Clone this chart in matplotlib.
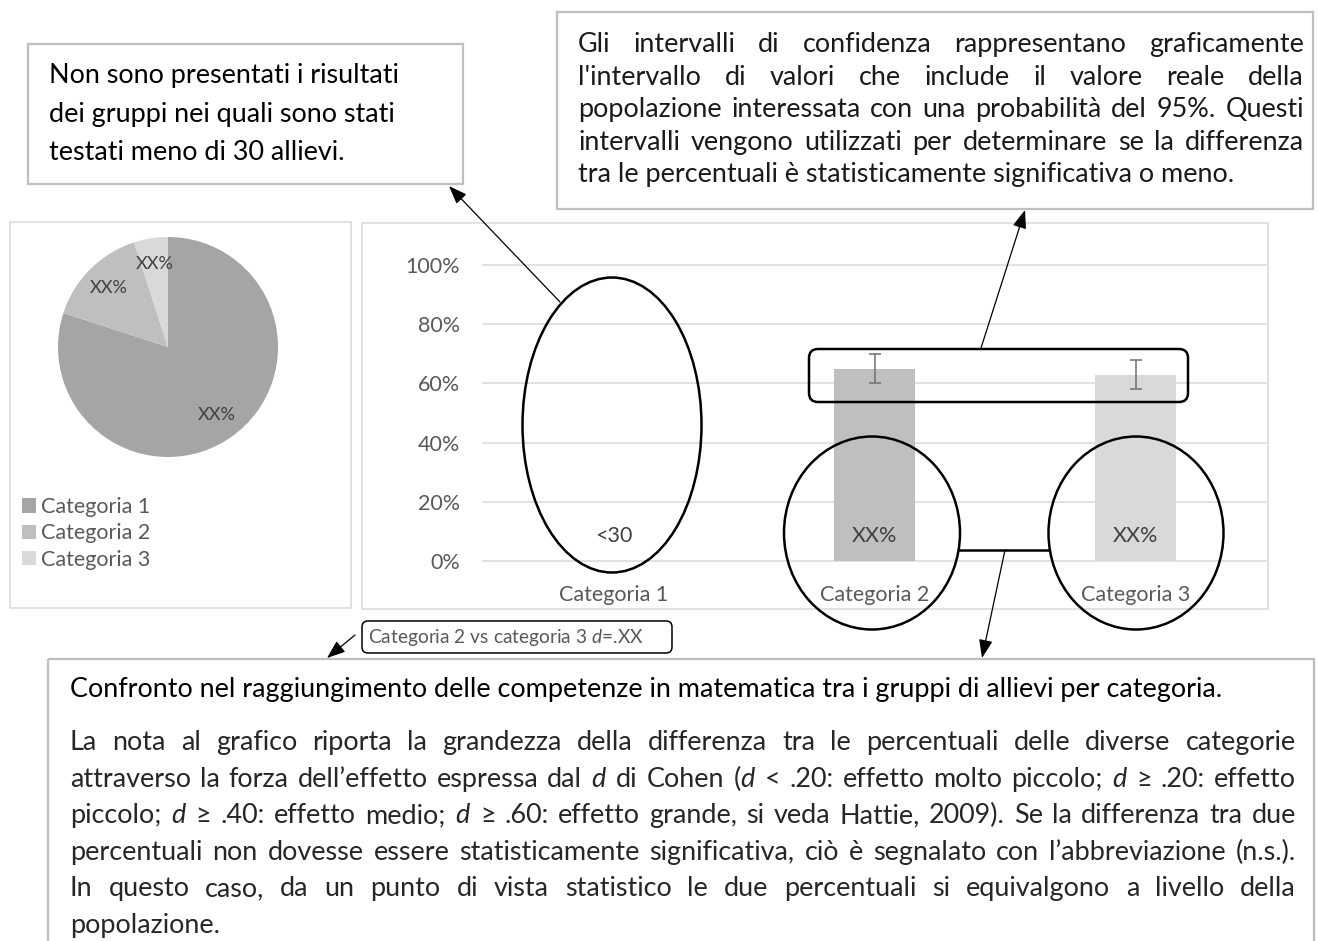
import numpy as np
import matplotlib
matplotlib.use('Agg')
import matplotlib.pyplot as plt
from matplotlib.patches import Rectangle, Ellipse, FancyBboxPatch

W, H = 1318, 941

# __ data __
categories = ['Categoria 1', 'Categoria 2', 'Categoria 3']
pie_shares = [80, 15, 5]
pie_labels = ['XX%', 'XX%', 'XX%']
bar_values = [np.nan, 0.65, 0.63]
ci_low = [np.nan, 0.60, 0.58]
ci_high = [np.nan, 0.70, 0.68]
bar_labels = ['<30', 'XX%', 'XX%']
y_ticks = [0, 0.2, 0.4, 0.6, 0.8, 1.0]
y_ticklabels = ['0%', '20%', '40%', '60%', '80%', '100%']
colors = ['#a5a5a5', '#bfbfbf', '#d9d9d9']

note_small = ['Non sono presentati i risultati',
              'dei gruppi nei quali sono stati',
              'testati meno di 30 allievi.']
note_ci = ["Gli intervalli di confidenza rappresentano graficamente",
           "l'intervallo di valori che include il valore reale della",
           "popolazione interessata con una probabilità del 95%. Questi",
           "intervalli vengono utilizzati per determinare se la differenza",
           "tra le percentuali è statisticamente significativa o meno."]
caption_title = 'Confronto nel raggiungimento delle competenze in matematica tra i gruppi di allievi per categoria.'
caption_body = ["La nota al grafico riporta la grandezza della differenza tra le percentuali delle diverse categorie",
                "attraverso la forza dell’effetto espressa dal $d$ di Cohen ($d$ < .20: effetto molto piccolo; $d$ ≥ .20: effetto",
                "piccolo; $d$ ≥ .40: effetto medio; $d$ ≥ .60: effetto grande, si veda Hattie, 2009). Se la differenza tra due",
                "percentuali non dovesse essere statisticamente significativa, ciò è segnalato con l’abbreviazione (n.s.).",
                "In questo caso, da un punto di vista statistico le due percentuali si equivalgono a livello della",
                "popolazione."]
effect_note = 'Categoria 2 vs categoria 3 $d$=.XX'

plt.rcParams['font.family'] = ['Lato', 'DejaVu Sans']
plt.rcParams['mathtext.fontset'] = 'custom'
plt.rcParams['mathtext.rm'] = 'Lato'
plt.rcParams['mathtext.it'] = 'Lato:italic'

fig = plt.figure(figsize=(W / 100, H / 100), dpi=100)
fig.patch.set_facecolor('white')
r = fig.canvas.get_renderer()


def box(x0, y0, x1, y1):
    # pixel box -> figure fraction
    return [x0 / W, 1 - y1 / H, (x1 - x0) / W, (y1 - y0) / H]


# __ overlay in pixel units, on top of everything __
ov = fig.add_axes([0, 0, 1, 1], zorder=5)
ov.set_xlim(0, W)
ov.set_ylim(H, 0)
ov.axis('off')


def fit(txt, width, size0=20):
    t = ov.text(0, 0, txt, fontsize=size0)
    w = t.get_window_extent(r).width
    t.remove()
    return size0 * width / w


doc_fs = fit(note_small[0], 352)
chart_fs = fit(categories[0], 109)
pie_fs = fit('XX%', 38)
d_fs = fit(effect_note, 275)


def justify(line, x0, x1, y, size, color, last=False):
    if last:
        ov.text(x0, y, line, fontsize=size, color=color, va='baseline')
        return
    words = line.split(' ')
    ts = [ov.text(x0, y, w, fontsize=size, color=color, va='baseline') for w in words]
    widths = [t.get_window_extent(r).width for t in ts]
    gap = (x1 - x0 - sum(widths)) / (len(words) - 1)
    xx = x0
    for t, w in zip(ts, widths):
        t.set_x(xx)
        xx += w + gap


# __ pie __
pax = fig.add_axes(box(58, 237, 278, 457))
wedges, _, autot = pax.pie(pie_shares, colors=colors, startangle=90, counterclock=False,
                           autopct='%d', pctdistance=0.76,
                           wedgeprops=dict(linewidth=0),
                           textprops=dict(color='#404040', fontsize=pie_fs))
for t, s in zip(autot, pie_labels):
    t.set_text(s)
pax.set_xlim(-1, 1)
pax.set_ylim(-1, 1)
pax.legend(wedges, categories, loc='upper left', bbox_to_anchor=(22 / W, 1 - 497 / H),
           bbox_transform=fig.transFigure, frameon=False, fontsize=chart_fs,
           labelcolor='#595959', handlelength=0.65, handleheight=0.65, handletextpad=0.25,
           labelspacing=0.3, borderpad=0, borderaxespad=0)

# __ bars __
bax = fig.add_axes(box(483, 265, 1266, 561))
x = np.arange(len(categories))
vals = np.array(bar_values)
bax.bar(x, vals, width=0.31, color=colors, zorder=2)
bax.errorbar(x, vals, yerr=[vals - np.array(ci_low), np.array(ci_high) - vals], fmt='none',
             ecolor='#707070', elinewidth=1.1, capsize=4.5, capthick=1.1, zorder=3)
for xi, s in zip(x, bar_labels):
    bax.text(xi, 0.085, s, ha='center', va='center', fontsize=chart_fs, color='#404040', zorder=4)
bax.set_xlim(-0.5, 2.5)
bax.set_ylim(0, 1)
bax.set_yticks(y_ticks, y_ticklabels)
bax.set_xticks(x, categories)
bax.tick_params(length=0, labelsize=chart_fs, labelcolor='#595959')
bax.tick_params(axis='y', pad=16.5)
bax.tick_params(axis='x', pad=17)
bax.yaxis.grid(True, color='#d9d9d9', lw=1.1)
for l in bax.get_ygridlines():
    l.set_clip_on(False)
bax.set_axisbelow(True)
for s in bax.spines.values():
    s.set_visible(False)
bax.patch.set_alpha(0)

# __ panels and text boxes __
ov.add_patch(Rectangle((10, 222), 341, 386, fill=False, ec='#d9d9d9', lw=1.1))
ov.add_patch(Rectangle((362, 223), 906, 386, fill=False, ec='#d9d9d9', lw=1.1))
ov.add_patch(Rectangle((28, 44), 435, 140, fill=False, ec='#bfbfbf', lw=1.6))
ov.add_patch(Rectangle((557, 12), 756, 197, fill=False, ec='#bfbfbf', lw=1.6))
ov.add_patch(Rectangle((48, 659), 1266, 300, fill=False, ec='#bfbfbf', lw=1.6, clip_on=False))

for i, line in enumerate(note_small):
    ov.text(49, 83 + i * 38.5, line, fontsize=doc_fs, color='black', va='baseline')

for i, line in enumerate(note_ci):
    justify(line, 578, 1304, 52 + i * 32.5, doc_fs, '#1a1a1a', last=(i == len(note_ci) - 1))

ov.text(70, 697, caption_title, fontsize=doc_fs, color='black', va='baseline')
for i, line in enumerate(caption_body):
    justify(line, 70, 1296, 750 + i * 36.6, doc_fs, '#262626', last=(i == len(caption_body) - 1))

# __ highlight shapes __
ov.add_patch(Ellipse((612, 425), 179, 295, fill=False, ec='black', lw=1.8))
ov.add_patch(Ellipse((872, 533), 176, 193, fill=False, ec='black', lw=1.8))
ov.add_patch(Ellipse((1136, 533), 175, 193, fill=False, ec='black', lw=1.8))
ov.plot([960, 1049], [550, 550], color='black', lw=1.8)
ov.add_patch(FancyBboxPatch((809, 349), 379, 53, boxstyle='round,pad=0,rounding_size=9',
                            fill=False, ec='black', lw=1.8))
ov.add_patch(FancyBboxPatch((362, 621), 310, 32, boxstyle='round,pad=0,rounding_size=6',
                            fill=False, ec='black', lw=1.1))
ov.text(368, 637, effect_note, fontsize=d_fs, color='#595959', va='center')

arrow = dict(arrowstyle='-|>,head_length=0.8,head_width=0.3', color='black', lw=0.9,
             shrinkA=0, shrinkB=0, mutation_scale=14)
ov.annotate('', xy=(449, 186), xytext=(560, 302), arrowprops=arrow)
ov.annotate('', xy=(1025, 210), xytext=(981, 348), arrowprops=arrow)
ov.annotate('', xy=(982, 658), xytext=(1005, 550), arrowprops=arrow)
ov.annotate('', xy=(327, 658), xytext=(355, 635), arrowprops=arrow)

fig.savefig('out.png', dpi=100)
